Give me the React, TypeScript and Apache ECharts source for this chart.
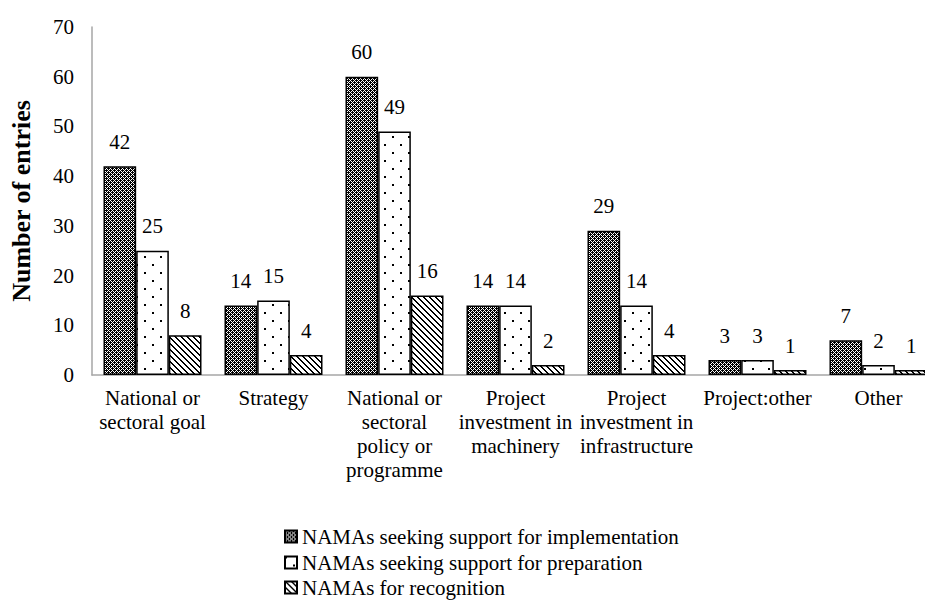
import React, { useEffect, useRef } from "react";
import * as echarts from "echarts";

const categories = [
  "National or\nsectoral goal",
  "Strategy",
  "National or\nsectoral\npolicy or\nprogramme",
  "Project\ninvestment in\nmachinery",
  "Project\ninvestment in\ninfrastructure",
  "Project:other",
  "Other",
];
const seriesNames = [
  "NAMAs seeking support for implementation",
  "NAMAs seeking support for preparation",
  "NAMAs for recognition",
];
const implementation = [42, 14, 60, 14, 29, 3, 7];
const preparation = [25, 15, 49, 14, 14, 3, 2];
const recognition = [8, 4, 16, 2, 4, 1, 1];
const yTicks = { min: 0, max: 70, interval: 10 };

const FONT = "Liberation Serif";

function makeTile(size: number, fn: (x: number, y: number) => boolean) {
  const c = document.createElement("canvas");
  c.width = size;
  c.height = size;
  const ctx = c.getContext("2d")!;
  ctx.fillStyle = "#fff";
  ctx.fillRect(0, 0, size, size);
  ctx.fillStyle = "#000";
  for (let y = 0; y < size; y++)
    for (let x = 0; x < size; x++) if (fn(x, y)) ctx.fillRect(x, y, 1, 1);
  return c;
}

export default function App() {
  const ref = useRef<HTMLDivElement>(null);
  useEffect(() => {
    if (!ref.current) return;
    document.body.style.overflow = "hidden";
    document.documentElement.style.overflow = "hidden";
    const chart = echarts.init(ref.current, undefined, { renderer: "svg" });
    const checker = makeTile(4, (x, y) => {
      const white = (x + y) % 2 === 0 && !((x === 0 && y === 0) || (x === 2 && y === 2));
      return !white;
    });
    const dots = makeTile(16, (x, y) =>
      (x < 2 && y < 2) || (x >= 8 && x < 10 && y >= 8 && y < 10)
    );
    const hatch = makeTile(6, (x, y) => (((x - y) % 6) + 6) % 6 < 2);
    const patterns = [checker, dots, hatch];
    const datas = [implementation, preparation, recognition];
    const legendTops = [526, 552, 577];

    chart.setOption({
      animation: false,
      textStyle: { fontFamily: FONT, color: "#000", fontSize: 21 },
      grid: { left: 83, right: 0, top: 27, bottom: 228, containLabel: false },
      legend: seriesNames.map((n, i) => ({
        orient: "vertical",
        left: 284,
        top: legendTops[i],
        padding: 0,
        itemWidth: 12,
        itemHeight: 12,
        icon: "rect",
        textStyle: { fontFamily: FONT, fontSize: 21, color: "#000" },
        data: [n],
      })),
      xAxis: {
        type: "category",
        data: categories,
        axisLine: { show: true, lineStyle: { color: "#a6a6a6", width: 1.5 } },
        axisTick: { show: false },
        axisLabel: {
          interval: 0,
          fontFamily: FONT,
          fontSize: 21,
          lineHeight: 24,
          color: "#000",
          margin: 11,
          align: "center",
        },
      },
      yAxis: {
        type: "value",
        min: yTicks.min,
        max: yTicks.max,
        interval: yTicks.interval,
        name: "Number of entries",
        nameLocation: "middle",
        nameGap: 58,
        nameTextStyle: { fontFamily: FONT, fontSize: 26, fontWeight: "bold", color: "#000" },
        axisLine: { show: true, lineStyle: { color: "#a6a6a6", width: 1.5 } },
        axisTick: { show: false },
        splitLine: { show: false },
        axisLabel: { fontFamily: FONT, fontSize: 21, color: "#000", margin: 18 },
      },
      series: datas.map((d, i) => ({
        type: "bar",
        name: seriesNames[i],
        data: d,
        barGap: "0%",
        barCategoryGap: "19%",
        itemStyle: {
          color: { image: patterns[i], repeat: "repeat" },
          borderColor: "#000",
          borderWidth: 1.5,
        },
        label: {
          show: true,
          position: "top",
          distance: 14,
          fontFamily: FONT,
          fontSize: 21,
          color: "#000",
        },
      })),
    });
    return () => chart.dispose();
  }, []);
  return (
    <div
      ref={ref}
      style={{ position: "fixed", left: 0, top: 0, width: 939, height: 603, background: "#fff" }}
    />
  );
}
